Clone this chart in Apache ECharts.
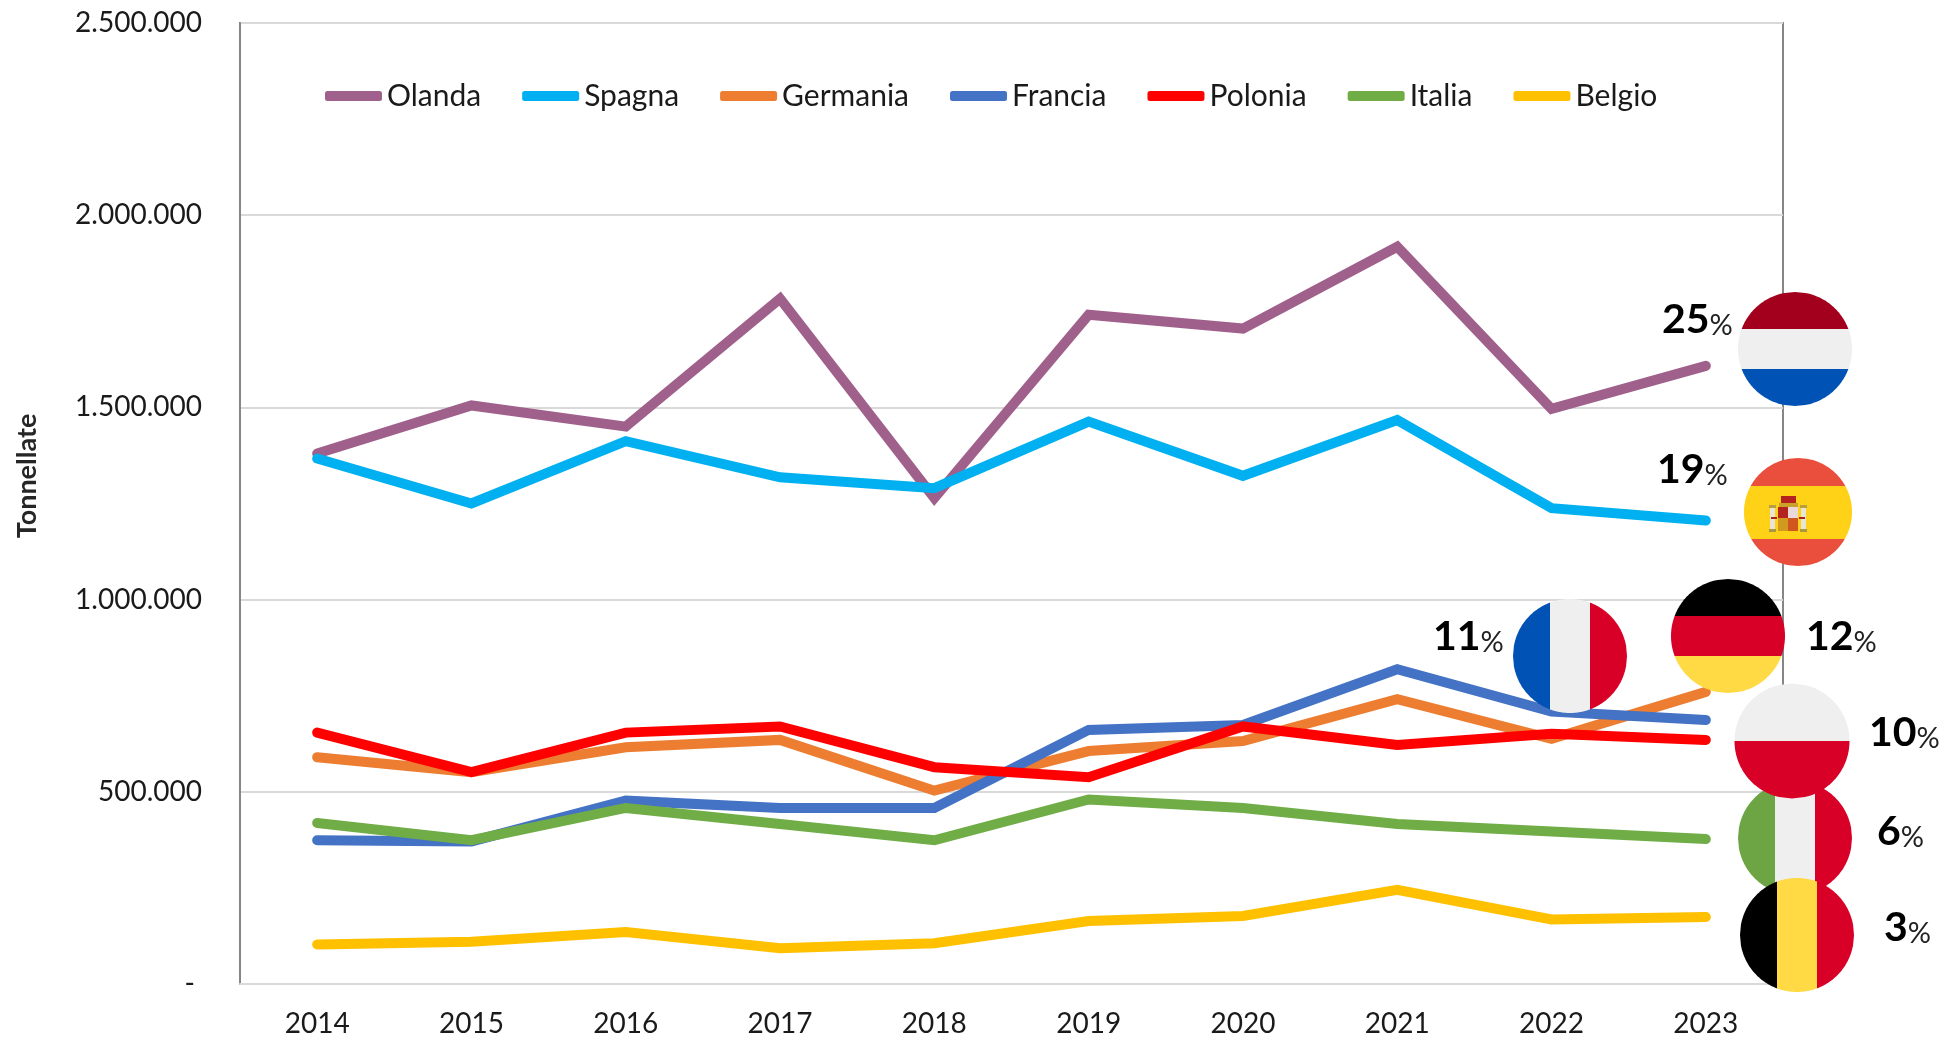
<!DOCTYPE html>
<html>
<head>
<meta charset="utf-8">
<title>Tonnellate</title>
<script src="https://cdn.jsdelivr.net/npm/echarts@6/dist/echarts.min.js"></script>
<style>
html, body { margin: 0; padding: 0; background: #fff; }
#chart { width: 1942px; height: 1038px; }
</style>
</head>
<body>
<div id="chart"></div>
<script>
var years = ['2014', '2015', '2016', '2017', '2018', '2019', '2020', '2021', '2022', '2023'];

var olanda   = [1380000, 1505000, 1450000, 1783000, 1264000, 1741000, 1705000, 1918000, 1496000, 1608000];
var spagna   = [1367000, 1250000, 1412000, 1318000, 1290000, 1463000, 1322000, 1467000, 1238000, 1206000];
var germania = [590000, 551000, 616000, 635000, 503000, 606000, 632000, 741000, 638000, 760000];
var francia  = [374000, 371000, 477000, 458000, 458000, 661000, 674000, 819000, 709000, 687000];
var polonia  = [654000, 551000, 654000, 670000, 564000, 538000, 670000, 622000, 651000, 635000];
var italia   = [419000, 374000, 458000, 416000, 374000, 480000, 458000, 416000, 397000, 377000];
var belgio   = [103000, 110000, 135000, 93000, 106000, 164000, 177000, 245000, 168000, 174000];

var seriesNames = ['Olanda', 'Spagna', 'Germania', 'Francia', 'Polonia', 'Italia', 'Belgio'];
var seriesValues = [olanda, spagna, germania, francia, polonia, italia, belgio];
var seriesColors = ['#A0608C', '#00B0F0', '#ED7D31', '#4472C4', '#FF0000', '#70AD47', '#FFC000'];

// quota 2023 di ogni paese
var shares = { nl: 25, es: 19, de: 12, fr: 11, pl: 10, it: 6, be: 3 };

var font = 'Lato';
var graphics = [];

// una fascia di bandiera: poligono tagliato sul cerchio, a e b relativi al centro
function band(cx, cy, r, a, b, color, vertical) {
    var pts = [], n = 40, i, t, d;
    function add(u, v) {
        pts.push(vertical ? [cx + v, cy + u] : [cx + u, cy + v]);
    }
    for (i = 0; i <= n; i++) {
        t = a + (b - a) * i / n;
        d = Math.sqrt(Math.max(r * r - t * t, 0));
        add(d, t);
    }
    for (i = n; i >= 0; i--) {
        t = a + (b - a) * i / n;
        d = Math.sqrt(Math.max(r * r - t * t, 0));
        add(-d, t);
    }
    graphics.push({ type: 'polygon', z: 100, silent: true, shape: { points: pts }, style: { fill: color } });
}

function flag(cx, cy, r, cuts, colors, vertical) {
    var edges = [-r].concat(cuts).concat([r]);
    for (var i = 0; i < colors.length; i++) {
        band(cx, cy, r, edges[i], edges[i + 1], colors[i], vertical);
    }
}

function share(x, baseline, value) {
    graphics.push({
        type: 'text', z: 101, silent: true, x: x, y: baseline,
        style: {
            text: '{n|' + value + '}{p|%}',
            textVerticalAlign: 'bottom',
            verticalAlign: 'bottom',
            rich: {
                n: { fontFamily: font, fontWeight: 'bold', fontSize: 41, fill: '#000', lineHeight: 41, verticalAlign: 'bottom' },
                p: { fontFamily: font, fontSize: 29, fill: '#222', lineHeight: 33, verticalAlign: 'bottom' }
            }
        }
    });
}

function box(x, y, w, h, color) {
    graphics.push({ type: 'rect', z: 102, silent: true, shape: { x: x, y: y, width: w, height: h }, style: { fill: color } });
}

var WHITE = '#EFEFEF', RED = '#D80027', BLUE = '#0052B4', GOLD = '#FFDA44';

flag(1795, 349, 57, [-20, 20], ['#A2001D', WHITE, BLUE], false);
flag(1798, 512, 54, [-26, 27], ['#E94F3C', '#FFD117', '#E94F3C'], false);
flag(1728, 636, 57, [-20, 20], ['#000000', RED, GOLD], false);
flag(1570, 656, 57, [-20, 20], [BLUE, WHITE, RED], true);
flag(1795, 838, 57, [-20, 20], ['#6DA544', WHITE, RED], true);
flag(1792, 741, 57.5, [0], [WHITE, RED], false);
flag(1797, 935, 57, [-20, 20], ['#000000', GOLD, RED], true);

// stemma spagnolo, solo accennato
box(1770, 507, 5, 24, '#E8E4D8');
box(1801, 507, 5, 24, '#E8E4D8');
box(1769, 505, 7, 3, '#B8A040');
box(1800, 505, 7, 3, '#B8A040');
box(1769, 529, 7, 3, '#A89840');
box(1800, 529, 7, 3, '#A89840');
box(1771, 517, 6, 2, '#A8231E');
box(1799, 517, 6, 2, '#A8231E');
box(1779, 503, 19, 4, '#C9A227');
box(1781, 496, 15, 7, '#B5231E');
box(1778, 507, 10, 11, '#B5231E');
box(1788, 507, 10, 11, '#EAD9DA');
box(1778, 518, 10, 13, '#D19A1F');
box(1788, 518, 10, 13, '#D0551F');

share(1662, 340, shares.nl);
share(1657, 490, shares.es);
share(1806, 657, shares.de);
share(1433, 657, shares.fr);
share(1869, 753, shares.pl);
share(1877, 852, shares.it);
share(1884, 948, shares.be);

graphics.push({
    type: 'text', x: 27, y: 476, rotation: Math.PI / 2, silent: true,
    style: { text: 'Tonnellate', fontFamily: font, fontWeight: 'bold', fontSize: 27, fill: '#262626', align: 'center', verticalAlign: 'middle' }
});

var myChart = echarts.init(document.getElementById('chart'));

var option = {
    animation: false,
    backgroundColor: '#fff',
    color: seriesColors,
    grid: { left: 240, right: 159, top: 23, bottom: 54, show: true, borderColor: '#868686', borderWidth: 2 },
    legend: {
        left: 320, top: 76,
        itemWidth: 57, itemHeight: 10, itemGap: 41,
        icon: 'roundRect',
        data: seriesNames,
        textStyle: { fontFamily: font, fontSize: 30, color: '#1a1a1a' }
    },
    xAxis: {
        type: 'category',
        data: years,
        axisLine: { lineStyle: { color: '#D9D9D9', width: 2 } },
        axisTick: { show: false },
        axisLabel: { fontFamily: font, fontSize: 28, color: '#1a1a1a', margin: 26 }
    },
    yAxis: {
        type: 'value',
        min: 0, max: 2500000, interval: 500000,
        axisLine: { show: true, lineStyle: { color: '#868686', width: 2 } },
        axisTick: { show: false },
        splitLine: { lineStyle: { color: '#D9D9D9', width: 2 } },
        axisLabel: {
            fontFamily: font, fontSize: 28, color: '#1a1a1a', margin: 38,
            formatter: function (v) {
                if (v === 0) return '- ';
                return String(v).replace(/\B(?=(\d{3})+$)/g, '.');
            }
        }
    },
    series: seriesNames.map(function (name, i) {
        return {
            name: name,
            type: 'line',
            data: seriesValues[i],
            symbol: 'none',
            lineStyle: { width: 10, cap: 'round', join: 'miter', color: seriesColors[i] },
            itemStyle: { color: seriesColors[i] }
        };
    }),
    graphic: { elements: graphics }
};

myChart.setOption(option);
</script>
</body>
</html>
